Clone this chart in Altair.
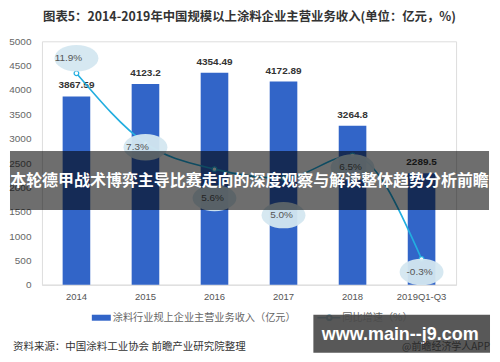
import altair as alt
import pandas as pd

# ---- data ----
years = ["2014", "2015", "2016", "2017", "2018", "2019Q1-Q3"]
revenue = [3867.59, 4123.2, 4354.49, 4172.89, 3264.8, 2289.5]
growth = [11.9, 7.3, 5.6, 5.0, 6.5, -0.3]
growth_labels = ["11.9%", "7.3%", "5.6%", "5.0%", "6.5%", "-0.3%"]
left_ticks = [0, 500, 1000, 1500, 2000, 2500, 3000, 3500, 4000, 4500, 5000]
right_ticks = [-2, 0, 2, 4, 6, 8, 10, 12, 14]

title_text = "图表5：2014-2019年中国规模以上涂料企业主营业务收入(单位：亿元，%)"
banner_text = "本轮德甲战术博弈主导比赛走向的深度观察与解读整体趋势分析前瞻"
legend_bar = "涂料行业规上企业主营业务收入（亿元）"
legend_line = "同比增速（%）"
source_text = "资料来源：中国涂料工业协会 前瞻产业研究院整理"
wm_text = "www.main--j9.com"
wm_small = "@前瞻经济学人APP"

df = pd.DataFrame({"year": years, "revenue": revenue, "growth": growth, "glabel": growth_labels})

FONT = "Liberation Sans, Arial, Noto Sans CJK SC, sans-serif"
CJK = "Noto Sans CJK SC, Liberation Sans, sans-serif"
BAR = "#3265c8"
LINE = "#22aee0"
W, H = 415, 244
PX_PER_PCT = H / 16.0

x_enc = alt.X(
    "year:N", sort=years,
    scale=alt.Scale(paddingInner=0.6, paddingOuter=0.3),
    axis=alt.Axis(title=None, labelAngle=0, ticks=False, domainColor="#e0e0e0", domainWidth=1.5,
                  labelColor="#555555", labelFont=FONT, labelFontSize=9.5, labelPadding=7, grid=False),
)
y_left = alt.Y(
    "revenue:Q", scale=alt.Scale(domain=[0, 5000], nice=False),
    axis=alt.Axis(values=left_ticks, format="d", title=None, grid=False, domain=False, ticks=False,
                  labelColor="#666666", labelFont=FONT, labelFontSize=10, labelPadding=11),
)
right_scale = alt.Scale(domain=[-2, 14], nice=False)
y_right = alt.Y(
    "growth:Q", scale=right_scale,
    axis=alt.Axis(orient="right", values=right_ticks, title=None, grid=False, domain=False, ticks=False,
                  labelExpr="datum.value + '%'", labelColor="#666666", labelFont=FONT,
                  labelFontSize=10, labelPadding=10),
)
y_label = alt.Y("ly:Q", scale=right_scale, axis=None)

bars = alt.Chart(df).mark_bar(color=BAR).encode(x=x_enc, y=y_left)
bar_text = alt.Chart(df).mark_text(
    baseline="bottom", dy=-6, fontWeight="bold", fontSize=10, color="#333333", font=FONT
).encode(x=x_enc, y=y_left, text=alt.Text("revenue:Q", format="~f"))
bar_layer = alt.layer(bars, bar_text)

line = alt.Chart(df).mark_line(color=LINE, strokeWidth=1.6, interpolate="monotone").encode(x=x_enc, y=y_right)
pts = alt.Chart(df).mark_point(filled=True, fill="white", stroke=LINE, strokeWidth=1.2, size=22, opacity=1).encode(
    x=x_enc, y=y_right)

# label ellipse vertical offset (pixels, positive = below the point)
offset_y = ("datum.year=='2014' ? -15 : datum.year=='2015' ? 4 : datum.year=='2016' ? 29 : "
            "datum.year=='2017' ? 37 : datum.year=='2018' ? 12 : 13")
ellipse_path = "M-1,0A1,0.6 0 1,0 1,0A1,0.6 0 1,0 -1,0Z"
shift_left = "datum.year=='2014' || datum.year=='2015'"


def label_layers(dx, cond):
    base = alt.Chart(df).transform_filter(cond).transform_calculate(
        ly=f"datum.growth - ({offset_y}) / {PX_PER_PCT}")
    e = base.mark_point(shape=ellipse_path, filled=True, fill="#d4e7f0", opacity=0.95, strokeWidth=0,
                        size=1936, dx=dx).encode(x=x_enc, y=y_label)
    t = base.mark_text(fontSize=10, color="#555555", font=FONT, dx=dx).encode(
        x=x_enc, y=y_label, text="glabel:N")
    return [e, t]


lab = label_layers(-8, shift_left) + label_layers(-2, f"!({shift_left})")
line_layer = alt.layer(line, pts, *lab)

one = pd.DataFrame({"k": [0]})


def txt(t, x, y, size, color, weight="normal", align="center", font=CJK):
    return alt.Chart(one).mark_text(
        text=t, fontSize=size, color=color, fontWeight=weight, align=align, baseline="middle", font=font
    ).encode(x=alt.value(x), y=alt.value(y))


title = txt(title_text, 208, -24, 12.4, "#333333", "bold")
swatch = alt.Chart(one).mark_rect(color=BAR).encode(
    x=alt.value(50), x2=alt.value(69), y=alt.value(274), y2=alt.value(280))
leg1 = txt(legend_bar, 71, 277, 10.2, "#666666", align="left")
leg_line = alt.Chart(one).mark_rule(color="#1f7fa6", strokeWidth=1.6).encode(
    x=alt.value(276), x2=alt.value(299), y=alt.value(277))
leg_pt = alt.Chart(one).mark_point(filled=True, fill="white", stroke="#1f7fa6", size=22, opacity=1).encode(
    x=alt.value(288), y=alt.value(277))
leg2 = txt(legend_line, 301, 277, 10.2, "#666666", align="left")
source = txt(source_text, -29, 306, 10.5, "#333333", align="left")

banner = alt.Chart(one).mark_rect(color="black", opacity=0.57).encode(
    x=alt.value(-32), x2=alt.value(448), y=alt.value(110), y2=alt.value(169))
banner_t = txt(banner_text, 208, 140, 16, "white", "bold")

wm_box = alt.Chart(one).mark_rect(color="#4a4a4a", opacity=0.92).encode(
    x=alt.value(272), x2=alt.value(449), y=alt.value(274), y2=alt.value(312))
wm_t = txt(wm_text, 359, 294, 18, "white", "bold", font=FONT)
wm_s = txt(wm_small, 449, 306, 10, "#2a2a2a", align="right")

chart = alt.layer(
    bar_layer, line_layer,
    title, swatch, leg1, leg_line, leg_pt, leg2, source,
    banner, banner_t, wm_box, wm_t, wm_s,
).resolve_scale(y="independent").properties(
    width=W, height=H,
    autosize=alt.AutoSizeParams(type="none"),
    padding={"left": 34, "top": 33, "right": 36, "bottom": 70},
).configure_view(stroke=None).configure(background="white")

chart.save("out.html", embed_options={"renderer": "svg", "actions": False})
